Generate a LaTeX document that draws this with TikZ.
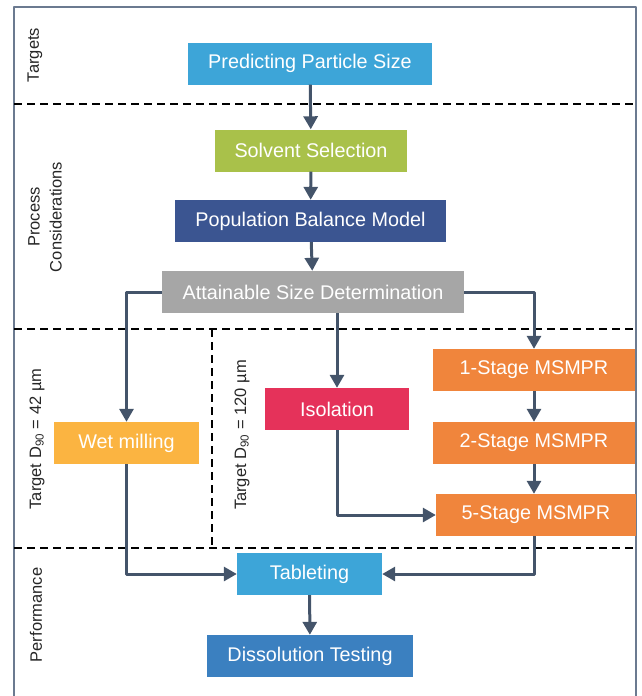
\documentclass[tikz,border=0pt]{standalone}
\usepackage{fontspec}
\newfontfamily\arialfont{Liberation Sans}
\usetikzlibrary{arrows.meta}
\definecolor{frameblue}{HTML}{6B7A90}
\definecolor{arrowslate}{HTML}{44546A}
\definecolor{skyblue}{HTML}{3DA5D8}
\definecolor{lightgreen}{HTML}{A9C14A}
\definecolor{navyblue}{HTML}{3B5591}
\definecolor{midgray}{HTML}{A6A6A6}
\definecolor{amber}{HTML}{FBB441}
\definecolor{crimson}{HTML}{E5325A}
\definecolor{tangerine}{HTML}{F0853C}
\definecolor{steelblue}{HTML}{3B80C0}

\begin{document}
\begin{tikzpicture}[x=1pt, y=-1pt, line join=round,
  box/.style={fill=#1, text=white, font=\arialfont\fontsize{19.8}{22}\selectfont,
    minimum height=42, inner sep=0pt},
  flow/.style={draw=arrowslate, line width=3pt, -{Triangle[length=13pt,width=14pt]}},
  phase/.style={rotate=90, font=\arialfont\fontsize{16.5}{22}\selectfont, text=black!85, inner sep=0pt},
  divider/.style={dashed, line width=1.5pt, dash pattern=on 8pt off 5pt}]
\useasboundingbox (0,0) rectangle (641,696);

% frame and phase dividers
\draw[frameblue, line width=1.5pt] (14,700) -- (14,7) -- (636,7) -- (636,700);
\draw[divider] (14,104) -- (636,104);
\draw[divider] (14,329) -- (636,329);
\draw[divider] (14,548) -- (636,548);
\draw[divider] (212,329) -- (212,548);

% phase labels
\node[phase] (lbltargets) at (35,55) {Targets};
\node[phase, align=center] (lblprocess) at (45,217) {Process\\Considerations};
\node[phase] (lblfine) at (37,439) {Target D\textsubscript{90} = 42 µm};
\node[phase] (lblcoarse) at (242,435) {Target D\textsubscript{90} = 120 µm};
\node[phase] (lblperf) at (36,615) {Performance};

% process boxes
\node[box=skyblue, minimum width=244] (predict) at (310,63.5) {Predicting Particle Size};
\node[box=lightgreen, minimum width=192] (solvent) at (311,150.5) {Solvent Selection};
\node[box=navyblue, minimum width=271] (pbm) at (310.5,221) {Population Balance Model};
\node[box=midgray, minimum width=302] (attain) at (313,292) {Attainable Size Determination};
\node[box=amber, minimum width=145] (wetmill) at (126.5,443) {Wet milling};
\node[box=crimson, minimum width=144] (isolate) at (337,409) {Isolation};
\node[box=tangerine, minimum width=202] (stageone) at (534,370) {1-Stage MSMPR};
\node[box=tangerine, minimum width=202] (stagetwo) at (534,443) {2-Stage MSMPR};
\node[box=tangerine, minimum width=200] (stagefive) at (536,515) {5-Stage MSMPR};
\node[box=skyblue, minimum width=145] (tablet) at (309.5,574) {Tableting};
\node[box=steelblue, minimum width=206] (dissolve) at (310,656) {Dissolution Testing};

% connectors
\draw[flow] (predict) -- (solvent);
\draw[flow] (solvent) -- (pbm);
\draw[flow] (pbm) -- (attain);
\draw[flow] (attain.west) -| (wetmill.north);
\draw[flow] (isolate.north |- attain.south) -- (isolate.north);
\draw[flow] (attain.east) -| (stageone.north);
\draw[flow] (stageone) -- (stagetwo);
\draw[flow] (stagetwo.south) -- (stagetwo.south |- stagefive.north);
\draw[flow] (isolate.south) |- (stagefive.west);
\draw[flow] (wetmill.south) |- (tablet.west);
\draw[flow] (stagefive.south -| stagetwo.south) |- (tablet.east);
\draw[flow] (tablet) -- (dissolve);
\end{tikzpicture}
\end{document}
